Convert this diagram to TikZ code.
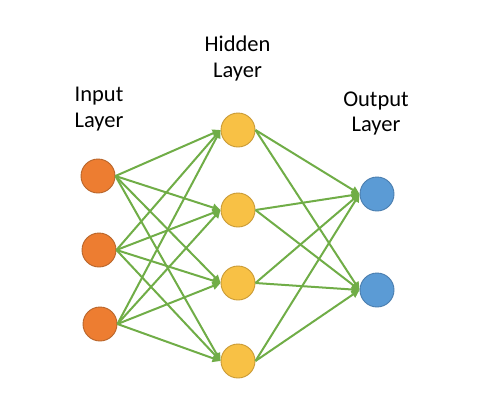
\documentclass[tikz,border=0pt]{standalone}
\usepackage{fontspec}
\setmainfont{Carlito}
\usetikzlibrary{arrows.meta}
\definecolor{inorange}{HTML}{ED7D31}
\definecolor{inorangeline}{HTML}{B8652A}
\definecolor{hidgold}{HTML}{F8C145}
\definecolor{hidgoldline}{HTML}{C99A35}
\definecolor{outblue}{HTML}{5B9BD5}
\definecolor{outblueline}{HTML}{4A7DAE}
\definecolor{edgegreen}{HTML}{70AD47}
\begin{document}
\begin{tikzpicture}[x=1pt,y=-1pt,
  unit/.style={circle, minimum size=34pt, inner sep=0pt, line width=0.9pt},
  inunit/.style={unit, fill=inorange, draw=inorangeline},
  hidunit/.style={unit, fill=hidgold, draw=hidgoldline},
  outunit/.style={unit, fill=outblue, draw=outblueline},
  layername/.style={align=center, anchor=base, font=\fontsize{22.5}{25.6}\selectfont},
  edge/.style={draw=edgegreen, line width=2pt, -{Triangle[length=8pt,width=7.5pt]}}]
\useasboundingbox (0,0) rectangle (487,408);
% layer titles
\node[layername] (tin) at (99,127.3) {Input\\Layer};
\node[layername] (thid) at (237.5,77.3) {Hidden\\Layer};
\node[layername] (tout) at (376,131.8) {Output\\Layer};
% units
\node[inunit] (i1) at (98,176) {};
\node[inunit] (i2) at (99,250) {};
\node[inunit] (i3) at (100,324) {};
\node[hidunit] (h1) at (238,130) {};
\node[hidunit] (h2) at (238,210) {};
\node[hidunit] (h3) at (238,283) {};
\node[hidunit] (h4) at (238,361) {};
\node[outunit] (o1) at (377,194) {};
\node[outunit] (o2) at (377,290) {};
% input to hidden
\draw[edge] (i1.east) -- (h1.west);
\draw[edge] (i1.east) -- (h2.west);
\draw[edge] (i1.east) -- (h3.west);
\draw[edge] (i1.east) -- (h4.west);
\draw[edge] (i2.east) -- (h1.west);
\draw[edge] (i2.east) -- (h2.west);
\draw[edge] (i2.east) -- (h3.west);
\draw[edge] (i2.east) -- (h4.west);
\draw[edge] (i3.east) -- (h1.west);
\draw[edge] (i3.east) -- (h2.west);
\draw[edge] (i3.east) -- (h3.west);
\draw[edge] (i3.east) -- (h4.west);
% hidden to output
\draw[edge] (h1.east) -- (o1.west);
\draw[edge] (h1.east) -- (o2.west);
\draw[edge] (h2.east) -- (o1.west);
\draw[edge] (h2.east) -- (o2.west);
\draw[edge] (h3.east) -- (o1.west);
\draw[edge] (h3.east) -- (o2.west);
\draw[edge] (h4.east) -- (o1.west);
\draw[edge] (h4.east) -- (o2.west);
\end{tikzpicture}
\end{document}
